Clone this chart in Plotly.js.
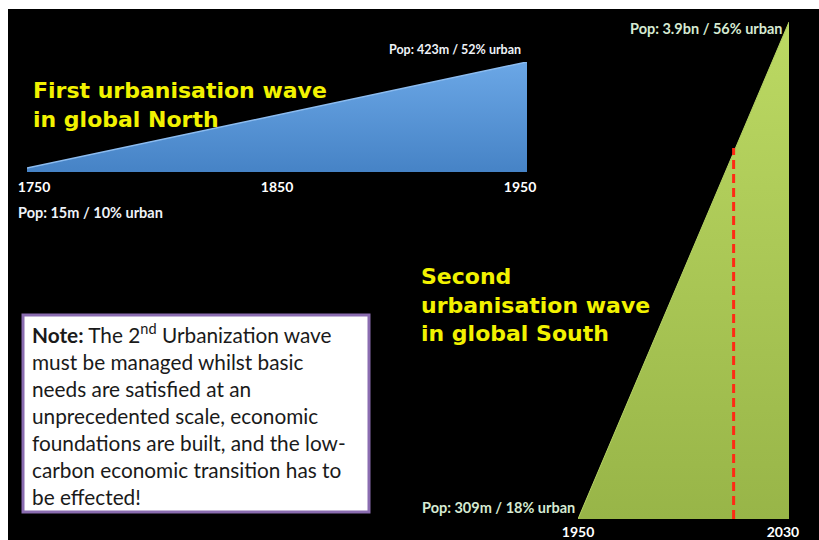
<!DOCTYPE html>
<html>
<head>
<meta charset="utf-8">
<script src="https://cdn.plot.ly/plotly-3.0.1.min.js"></script>
<style>html,body{margin:0;padding:0;background:#fff;}#chart{width:819px;height:540px;}</style>
</head>
<body>
<div id="chart"></div>
<script>
// ---- data ----
const northYears = [1750, 1950];
const northPop = [15, 423];          // millions
const northUrban = [10, 52];         // % urban
const northTicks = [1750, 1850, 1950];

const southYears = [1950, 2030];
const southPop = [309, 3900];        // millions
const southUrban = [18, 56];         // % urban
const southTicks = [1950, 2030];

const todayYear = [2009, 2009];
const todayPop = [309, 2990];

const northTitle = ["First urbanisation wave", "in global North"];
const southTitle = ["Second", "urbanisation wave", "in global South"];
const noteLines = [
  "<b>Note:</b> The 2<sup>nd</sup> Urbanization wave",
  "must be managed whilst basic",
  "needs are satisfied at an",
  "unprecedented scale, economic",
  "foundations are built, and the low-",
  "carbon economic transition has to",
  "be effected!"
];

function popLabel(p, u) {
  const s = p >= 1000 ? (p / 1000).toFixed(1) + "bn" : p + "m";
  return "Pop: " + s + " / " + u + "% urban";
}

const W = 819, H = 540;
const px = v => v / W, py = v => 1 - v / H;

const smallLabel = {family: "Lato, 'Open Sans', sans-serif", size: 12.5, color: "#eef2f8", weight: 700};
const bigLabel = {family: "Lato, 'Open Sans', sans-serif", size: 14.5, color: "#eef2f8", weight: 700};
const greenLabel = {family: "Lato, 'Open Sans', sans-serif", size: 14.5, color: "#d6ead2", weight: 700};
const titleFont = {family: "'DejaVu Sans', Lato, sans-serif", size: 22, color: "#f2f200", weight: 700};
const tickFont = {family: "Lato, sans-serif", size: 14, color: "#ffffff", weight: 700};

const traces = [
  {
    x: northYears, y: northPop, xaxis: "x", yaxis: "y",
    type: "scatter", mode: "lines", fill: "tozeroy",
    line: {color: "#8cbcf0", width: 1.5},
    fillgradient: {type: "vertical", colorscale: [[0, "#4683c6"], [1, "#6ba7e6"]],
                   start: 0, stop: Math.max(...northPop)},
    hoverinfo: "skip", showlegend: false
  },
  {
    x: southYears, y: southPop, xaxis: "x2", yaxis: "y2",
    type: "scatter", mode: "lines", fill: "tozeroy",
    line: {color: "#b5d463", width: 1},
    fillgradient: {type: "vertical", colorscale: [[0, "#98b548"], [1, "#bcd963"]],
                   start: Math.min(...southPop), stop: Math.max(...southPop)},
    hoverinfo: "skip", showlegend: false
  },
  {
    x: todayYear, y: todayPop, xaxis: "x2", yaxis: "y2",
    type: "scatter", mode: "lines",
    line: {color: "#ff2a14", width: 3, dash: "9px,5px"},
    hoverinfo: "skip", showlegend: false
  }
];

const annotations = [
  {xref: "x", yref: "y", x: northYears[1], y: northPop[1], xanchor: "right", yanchor: "bottom",
   xshift: -4, yshift: 3, showarrow: false, text: popLabel(northPop[1], northUrban[1]), font: smallLabel},
  {xref: "x", yref: "y", x: northYears[0], y: 0, xanchor: "left", yanchor: "middle",
   xshift: -11, yshift: -40, showarrow: false, text: popLabel(northPop[0], northUrban[0]), font: bigLabel},
  {xref: "x2", yref: "y2", x: southYears[1], y: southPop[1], xanchor: "right", yanchor: "middle",
   xshift: -4, yshift: -6, showarrow: false, text: popLabel(southPop[1], southUrban[1]), font: greenLabel},
  {xref: "x2", yref: "y2", x: southYears[0], y: southPop[0], xanchor: "right", yanchor: "middle",
   xshift: -1, yshift: 12, showarrow: false, text: popLabel(southPop[0], southUrban[0]), font: greenLabel},
  {xref: "paper", yref: "paper", x: px(31), y: py(76), xanchor: "left", yanchor: "top",
   showarrow: false, align: "left", text: northTitle.join("<br>"), font: titleFont},
  {xref: "paper", yref: "paper", x: px(419), y: py(262), xanchor: "left", yanchor: "top",
   showarrow: false, align: "left", text: southTitle.join("<br>"), font: titleFont},
  {xref: "paper", yref: "paper", x: px(30), y: py(318), xanchor: "left", yanchor: "top",
   showarrow: false, align: "left", valign: "top", text: noteLines.join("<br>"),
   font: {family: "Lato, sans-serif", size: 20.8, color: "#1a1a1a"}}
];

// tick labels sit slightly inside the wedge ends in the reference
const inset = (ticks, d) => ticks.map((t, i) => i === 0 ? t + d : (i === ticks.length - 1 ? t - d : t));

const layout = {
  width: W, height: H,
  margin: {l: 0, r: 0, t: 0, b: 0},
  paper_bgcolor: "#ffffff",
  plot_bgcolor: "rgba(0,0,0,0)",
  showlegend: false,
  shapes: [
    {type: "rect", xref: "paper", yref: "paper", x0: px(8), x1: 1, y0: 0, y1: py(9),
     fillcolor: "#000000", line: {width: 0}, layer: "below"},
    {type: "rect", xref: "paper", yref: "paper", x0: px(23), x1: px(369), y0: py(512), y1: py(315),
     fillcolor: "#ffffff", line: {color: "#8a6cb0", width: 3}, layer: "above"}
  ],
  xaxis: {domain: [px(27), px(527)], range: [1750, 1950], anchor: "y",
          tickvals: inset(northTicks, 2.8), ticktext: northTicks.map(String), ticks: "",
          showgrid: false, zeroline: false, showline: false, ticklabelstandoff: 5,
          tickfont: tickFont},
  yaxis: {domain: [py(172), py(62)], range: [0, Math.max(...northPop)], anchor: "x",
          visible: false, showgrid: false, zeroline: false},
  xaxis2: {domain: [px(578), px(789)], range: [1950, 2030], anchor: "y2",
           tickvals: [southTicks[0], southTicks[1] - 2.3], ticktext: southTicks.map(String), ticks: "",
           showgrid: false, zeroline: false, showline: false, ticklabelstandoff: 3,
           tickfont: tickFont},
  yaxis2: {domain: [py(519), py(22)], range: [Math.min(...southPop), Math.max(...southPop)], anchor: "x2",
           visible: false, showgrid: false, zeroline: false},
  annotations: annotations
};

Plotly.newPlot("chart", traces, layout, {displayModeBar: false, staticPlot: true});
</script>
</body>
</html>
